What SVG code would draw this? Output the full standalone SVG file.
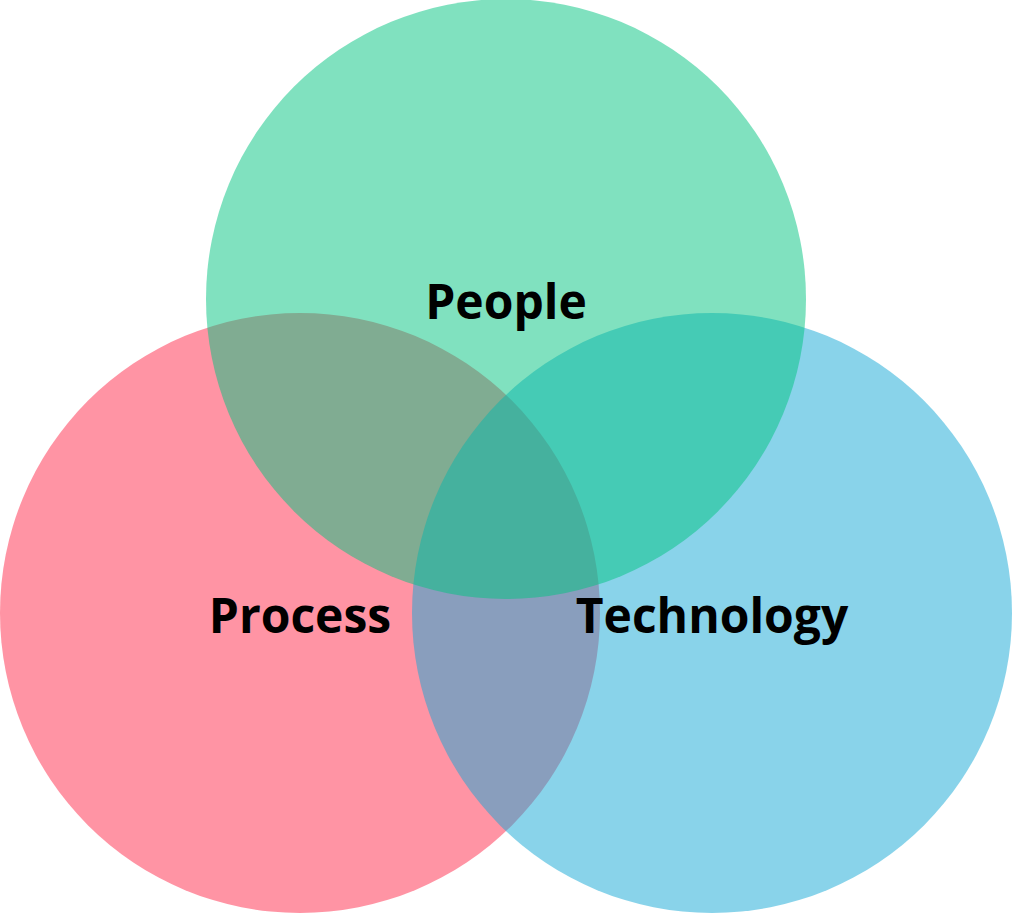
<svg xmlns="http://www.w3.org/2000/svg" width="1012" height="913" viewBox="0 0 1012 913">
<style>
.c{opacity:0.5}
.t{font-family:"Open Sans","DejaVu Sans",sans-serif;font-weight:bold;font-size:48px;fill:#000;text-anchor:middle}
</style>
<rect width="1012" height="913" fill="#fff"/>
<g id="process"><circle class="c" cx="300" cy="613" r="300" fill="#ff2949"/></g>
<g id="technology"><circle class="c" cx="712" cy="613" r="300" fill="#13a7d5"/></g>
<g id="people"><circle class="c" cx="506" cy="299" r="300" fill="#01c37f"/></g>
<g id="labels">
<text class="t" x="506" y="319">People</text>
<text class="t" x="300" y="633">Process</text>
<text class="t" x="712" y="633">Technology</text>
</g>
</svg>
